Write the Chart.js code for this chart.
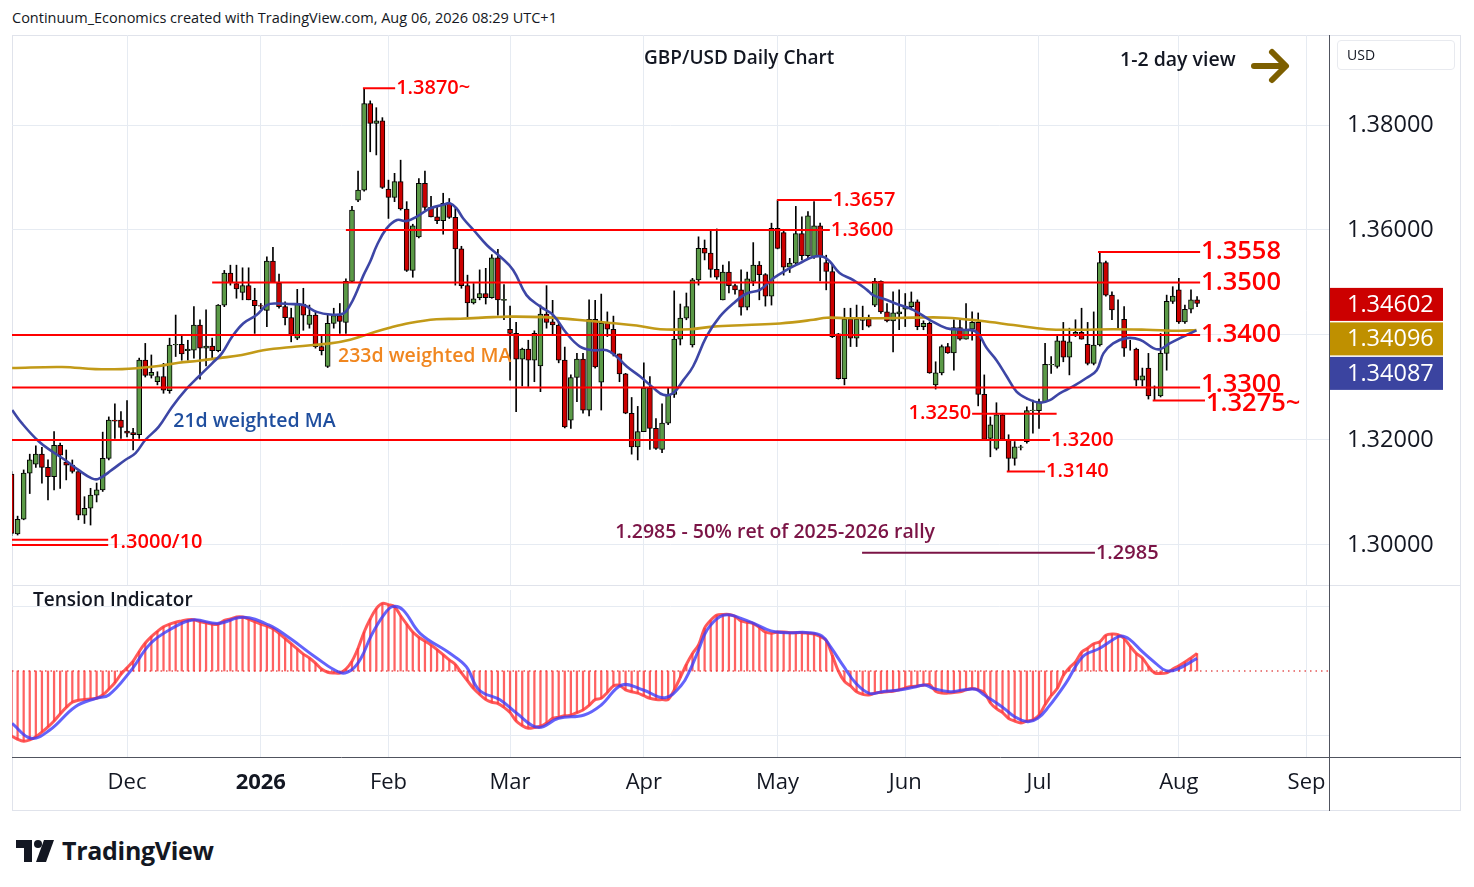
<!DOCTYPE html>
<html><head><meta charset="utf-8">
<script src="https://cdn.jsdelivr.net/npm/chart.js@4.4.1/dist/chart.umd.min.js"></script>
<style>
html,body{margin:0;padding:0;background:#fff;}
body{width:1474px;height:887px;position:relative;overflow:hidden;font-family:'Open Sans',sans-serif;color:#131722;}
.abs{position:absolute;}
</style></head>
<body>
<div class="abs" style="left:12px;top:8px;font-size:14.5px;white-space:nowrap;">Continuum_Economics created with TradingView.com, Aug 06, 2026 08:29 UTC+1</div>
<div class="abs" style="left:12px;top:35px;width:1449px;height:776px;box-sizing:border-box;border:1px solid #e0e3eb;"></div>
<div class="abs" style="left:12px;top:35px;"><canvas id="main" width="1449" height="551" style="width:1449px;height:551px;display:block"></canvas></div>
<div class="abs" style="left:12px;top:585px;width:1449px;height:1px;background:#e0e3eb;"></div>
<div class="abs" style="left:12px;top:587px;"><canvas id="ind" width="1449" height="224" style="width:1449px;height:224px;display:block"></canvas></div>
<div class="abs" style="left:1329px;top:35px;width:1px;height:776px;background:#50535e;"></div>
<div class="abs" style="left:1329px;top:757px;width:132px;height:1px;background:#50535e;"></div>
<div class="abs" style="left:644px;top:44px;font-size:19px;font-weight:600;white-space:nowrap;">GBP/USD Daily Chart</div>
<div class="abs" style="left:1120px;top:45px;font-size:19.5px;font-weight:600;white-space:nowrap;">1-2 day view</div>
<svg class="abs" style="left:1250px;top:46px" width="42" height="40" viewBox="0 0 42 40">
 <path d="M4 20 H34" stroke="#7d5f00" stroke-width="6" stroke-linecap="round" fill="none"/>
 <path d="M22 6 L36 20 L22 34" stroke="#7d5f00" stroke-width="6" stroke-linecap="round" stroke-linejoin="round" fill="none"/>
</svg>
<div class="abs" style="left:1337px;top:40px;width:118px;height:30px;box-sizing:border-box;border:1px solid #e8eaef;border-radius:4px;font-size:14px;line-height:28px;padding-left:9px;">USD</div>
<div class="abs" style="left:33px;top:586px;font-size:19px;font-weight:600;white-space:nowrap;">Tension Indicator</div>
<svg class="abs" style="left:16px;top:838px" width="44" height="26" viewBox="0 0 44 26">
 <path d="M0 2 H16 V24 H8 V10 H0 Z" fill="#131722"/>
 <circle cx="22" cy="6" r="4" fill="#131722"/>
 <path d="M28 2 H38 L30 24 H20 Z" fill="#131722"/>
</svg>
<div class="abs" style="left:62px;top:833px;font-size:25px;font-weight:700;letter-spacing:-0.3px;white-space:nowrap;">TradingView</div>
<script>
// ---------------- DATA ----------------
const FIRST_INDEX = -1; // first candle = Nov 4 2025 (trading-day index, Dec 1 = 18)
const opens = [1.3135,
1.3021,1.3049,1.3137,1.3154,1.3173,1.3148,1.3130,1.3190,1.3158,1.3152,
1.3140,1.3057,1.3070,1.3095,1.3105,1.3165,1.3238,1.3238,1.3217,1.3214,
1.3210,1.3352,1.3323,1.3311,1.3321,1.3294,1.3381,1.3382,1.3370,1.3371,
1.3419,1.3375,1.3379,1.3370,1.3457,1.3518,1.3498,1.3481,1.3494,1.3466,
1.3456,1.3447,1.3541,1.3499,1.3454,1.3433,1.3394,1.3459,1.3420,1.3438,
1.3378,1.3340,1.3422,1.3437,1.3424,1.3502,1.3657,1.3676,1.3841,1.3803,
1.3808,1.3678,1.3662,1.3692,1.3640,1.3523,1.3587,1.3689,1.3643,1.3625,
1.3618,1.3651,1.3624,1.3564,1.3494,1.3461,1.3471,1.3479,1.3471,1.3547,
1.3466,1.3411,1.3403,1.3354,1.3373,1.3352,1.3341,1.3440,1.3425,1.3419,
1.3352,1.3238,1.3319,1.3354,1.3257,1.3430,1.3310,1.3422,1.3411,1.3364,
1.3326,1.3251,1.3187,1.3216,1.3299,1.3222,1.3182,1.3232,1.3287,1.3392,
1.3432,1.3381,1.3505,1.3565,1.3556,1.3525,1.3467,1.3520,1.3494,1.3486,
1.3453,1.3502,1.3533,1.3515,1.3474,1.3603,1.3595,1.3529,1.3537,1.3593,
1.3551,1.3549,1.3608,1.3538,1.3521,1.3402,1.3317,1.3430,1.3394,1.3428,
1.3430,1.3457,1.3502,1.3444,1.3427,1.3440,1.3449,1.3454,1.3463,1.3416,
1.3422,1.3305,1.3328,1.3378,1.3366,1.3414,1.3392,1.3411,1.3424,1.3287,
1.3203,1.3184,1.3248,1.3201,1.3165,1.3186,1.3197,1.3256,1.3256,1.3273,
1.3343,1.3340,1.3389,1.3358,1.3401,1.3405,1.3382,1.3346,1.3381,1.3538,
1.3476,1.3432,1.3430,1.3375,1.3373,1.3314,1.3337,1.3284,1.3284,1.3365,
1.3464,1.3486,1.3425,1.3449,1.3467];
const highs = [1.3140,
1.3055,1.3143,1.3173,1.3189,1.3186,1.3162,1.3216,1.3194,1.3181,1.3162,
1.3142,1.3092,1.3108,1.3118,1.3215,1.3244,1.3269,1.3254,1.3275,1.3222,
1.3356,1.3384,1.3362,1.3330,1.3346,1.3394,1.3438,1.3398,1.3390,1.3454,
1.3429,1.3448,1.3394,1.3458,1.3523,1.3533,1.3533,1.3528,1.3528,1.3489,
1.3460,1.3549,1.3567,1.3516,1.3463,1.3451,1.3487,1.3489,1.3457,1.3445,
1.3400,1.3440,1.3451,1.3460,1.3507,1.3645,1.3712,1.3870,1.3846,1.3833,
1.3814,1.3695,1.3708,1.3733,1.3654,1.3611,1.3698,1.3712,1.3664,1.3645,
1.3670,1.3660,1.3641,1.3569,1.3514,1.3498,1.3524,1.3527,1.3553,1.3563,
1.3496,1.3455,1.3424,1.3375,1.3390,1.3408,1.3457,1.3494,1.3466,1.3424,
1.3377,1.3324,1.3365,1.3365,1.3467,1.3466,1.3478,1.3444,1.3436,1.3364,
1.3327,1.3281,1.3264,1.3347,1.3321,1.3241,1.3269,1.3299,1.3484,1.3459,
1.3480,1.3508,1.3587,1.3581,1.3600,1.3602,1.3533,1.3540,1.3497,1.3524,
1.3520,1.3576,1.3540,1.3517,1.3613,1.3657,1.3600,1.3546,1.3645,1.3625,
1.3635,1.3654,1.3613,1.3552,1.3533,1.3403,1.3451,1.3451,1.3457,1.3455,
1.3438,1.3508,1.3503,1.3460,1.3482,1.3486,1.3479,1.3482,1.3467,1.3427,
1.3425,1.3349,1.3381,1.3384,1.3429,1.3429,1.3460,1.3444,1.3442,1.3324,
1.3244,1.3271,1.3250,1.3210,1.3197,1.3190,1.3263,1.3276,1.3278,1.3384,
1.3359,1.3399,1.3424,1.3413,1.3429,1.3451,1.3424,1.3444,1.3558,1.3541,
1.3482,1.3467,1.3454,1.3390,1.3375,1.3337,1.3365,1.3303,1.3403,1.3476,
1.3492,1.3508,1.3457,1.3486,1.3473];
const lows = [1.3018,
1.3019,1.3048,1.3098,1.3148,1.3118,1.3086,1.3105,1.3108,1.3124,1.3137,
1.3048,1.3041,1.3038,1.3082,1.3102,1.3162,1.3203,1.3203,1.3206,1.3181,
1.3203,1.3320,1.3318,1.3305,1.3289,1.3289,1.3359,1.3352,1.3352,1.3356,
1.3316,1.3341,1.3356,1.3368,1.3454,1.3495,1.3470,1.3467,1.3467,1.3403,
1.3450,1.3416,1.3500,1.3451,1.3419,1.3387,1.3391,1.3409,1.3413,1.3375,
1.3362,1.3338,1.3413,1.3403,1.3403,1.3500,1.3654,1.3674,1.3749,1.3743,
1.3679,1.3622,1.3654,1.3638,1.3521,1.3510,1.3585,1.3638,1.3625,1.3612,
1.3592,1.3622,1.3495,1.3489,1.3435,1.3459,1.3467,1.3459,1.3470,1.3438,
1.3429,1.3314,1.3254,1.3303,1.3302,1.3311,1.3292,1.3413,1.3402,1.3347,
1.3223,1.3222,1.3273,1.3251,1.3246,1.3337,1.3257,1.3397,1.3360,1.3311,
1.3250,1.3173,1.3162,1.3216,1.3182,1.3182,1.3176,1.3229,1.3281,1.3381,
1.3429,1.3377,1.3495,1.3543,1.3510,1.3506,1.3467,1.3480,1.3478,1.3438,
1.3448,1.3494,1.3467,1.3455,1.3457,1.3564,1.3514,1.3519,1.3533,1.3543,
1.3546,1.3546,1.3503,1.3486,1.3395,1.3316,1.3305,1.3378,1.3378,1.3410,
1.3415,1.3454,1.3441,1.3425,1.3368,1.3410,1.3416,1.3448,1.3410,1.3410,
1.3327,1.3297,1.3324,1.3365,1.3333,1.3390,1.3392,1.3390,1.3265,1.3200,
1.3168,1.3181,1.3200,1.3140,1.3152,1.3181,1.3194,1.3213,1.3222,1.3271,
1.3327,1.3337,1.3349,1.3324,1.3397,1.3392,1.3343,1.3343,1.3379,1.3474,
1.3429,1.3413,1.3359,1.3371,1.3303,1.3303,1.3278,1.3275,1.3282,1.3333,
1.3460,1.3422,1.3422,1.3442,1.3454];
const closes = [1.3022,
1.3049,1.3137,1.3162,1.3173,1.3148,1.3130,1.3190,1.3171,1.3152,1.3140,
1.3057,1.3070,1.3095,1.3105,1.3165,1.3238,1.3236,1.3224,1.3213,1.3210,
1.3352,1.3323,1.3329,1.3321,1.3295,1.3381,1.3382,1.3364,1.3373,1.3419,
1.3375,1.3379,1.3370,1.3457,1.3518,1.3500,1.3488,1.3494,1.3467,1.3456,
1.3455,1.3541,1.3500,1.3454,1.3433,1.3401,1.3459,1.3438,1.3438,1.3378,
1.3370,1.3422,1.3437,1.3426,1.3502,1.3638,1.3676,1.3841,1.3803,1.3808,
1.3681,1.3662,1.3692,1.3640,1.3523,1.3608,1.3689,1.3643,1.3625,1.3618,
1.3651,1.3624,1.3564,1.3494,1.3461,1.3469,1.3479,1.3471,1.3547,1.3467,
1.3468,1.3403,1.3354,1.3373,1.3352,1.3403,1.3440,1.3424,1.3419,1.3352,
1.3225,1.3319,1.3354,1.3257,1.3430,1.3339,1.3422,1.3411,1.3364,1.3326,
1.3251,1.3187,1.3216,1.3299,1.3222,1.3184,1.3232,1.3287,1.3392,1.3432,
1.3454,1.3505,1.3565,1.3556,1.3525,1.3510,1.3520,1.3494,1.3486,1.3453,
1.3507,1.3533,1.3515,1.3474,1.3603,1.3565,1.3529,1.3537,1.3593,1.3551,
1.3627,1.3608,1.3551,1.3521,1.3397,1.3317,1.3430,1.3394,1.3430,1.3432,
1.3417,1.3502,1.3444,1.3427,1.3442,1.3444,1.3454,1.3463,1.3416,1.3422,
1.3328,1.3328,1.3378,1.3366,1.3414,1.3392,1.3411,1.3424,1.3287,1.3201,
1.3229,1.3248,1.3201,1.3165,1.3187,1.3187,1.3256,1.3257,1.3273,1.3344,
1.3344,1.3389,1.3358,1.3387,1.3405,1.3392,1.3346,1.3381,1.3538,1.3476,
1.3448,1.3432,1.3375,1.3375,1.3314,1.3322,1.3284,1.3284,1.3365,1.3464,
1.3474,1.3425,1.3449,1.3467,1.3460];

// 21-day weighted MA, read at points [trading-day index, value]
const ma21Idx = [-0.9,0.7,3.5,5.7,7.8,10,12.2,13.3,15.5,17.7,19.4,21,23.2,25.4,27.6,29.8,32,33.6,35.3,37.1,39.3,41,42.6,44.8,47,49.2,51.4,53.6,54.7,55.8,56.9,58,59.1,60.7,62.4,64,65.6,67.8,70,71.1,72.2,73.3,75,77.2,79.4,81.5,83.7,86,88.1,90.3,92.5,94.7,96.9,98.5,100.2,102.4,104.6,106.2,107.8,109.5,111.1,113.3,115.5,117.7,119.9,122.1,124.3,126.5,128.7,130.9,132.5,133.6,135.2,137.4,139.7,140.7,142.9,145.1,147.3,150,152.8,155.5,157.7,159.4,161,162.7,164.3,166,168.2,169.8,171.4,173.6,175.8,177.5,178.6,180.2,182.4,184.6,186.8,187.9,189.5,191.2,193.9];
const ma21Val = [1.3257,1.3232,1.3197,1.3178,1.3162,1.3143,1.3127,1.3126,1.3143,1.3162,1.3175,1.3200,1.3225,1.3263,1.3295,1.3321,1.3346,1.3365,1.3397,1.3422,1.3438,1.3457,1.3460,1.3459,1.3457,1.3444,1.3439,1.3441,1.3457,1.3483,1.3514,1.3540,1.3571,1.3603,1.3619,1.3617,1.3625,1.3641,1.3648,1.3651,1.3641,1.3622,1.3600,1.3571,1.3549,1.3524,1.3476,1.3454,1.3438,1.3403,1.3378,1.3371,1.3371,1.3359,1.3340,1.3321,1.3299,1.3286,1.3289,1.3314,1.3340,1.3397,1.3435,1.3460,1.3479,1.3486,1.3508,1.3524,1.3537,1.3549,1.3549,1.3540,1.3518,1.3505,1.3486,1.3476,1.3467,1.3457,1.3448,1.3429,1.3413,1.3410,1.3406,1.3375,1.3352,1.3321,1.3292,1.3279,1.3271,1.3276,1.3289,1.3302,1.3318,1.3333,1.3365,1.3384,1.3394,1.3391,1.3375,1.3373,1.3384,1.3394,1.34087];
// 233-day weighted MA
const ma233Idx = [-0.9,7.3,12.8,17.2,19.9,23.2,26.5,29.8,33.1,36.9,40.4,45.9,51.4,54.7,58,61.2,64.5,68.9,72.8,78.2,80.9,86.5,92,97.5,101.8,105.7,110.6,114.4,119.9,125.4,130.9,133.1,136.4,141.8,147.3,152.8,158.3,163.8,169.3,174.7,180.2,185.7,191.2,193.9];
const ma233Val = [1.3337,1.3339,1.3335,1.3335,1.3337,1.3341,1.3347,1.3351,1.3356,1.3362,1.3371,1.3378,1.3384,1.3391,1.3403,1.3414,1.3423,1.3430,1.3431,1.3434,1.3435,1.3434,1.3429,1.3423,1.3418,1.3411,1.3411,1.3416,1.3419,1.3422,1.3429,1.3433,1.3432,1.3432,1.3433,1.3433,1.3427,1.3419,1.3411,1.3410,1.3411,1.3410,1.3408,1.34096];

// Tension indicator (per candle) and its signal line (read at points)
const tension = [-1.00,
-1.05,-1.08,-1.06,-1.01,-0.94,-0.86,-0.77,-0.66,-0.56,-0.48,
-0.45,-0.44,-0.43,-0.42,-0.37,-0.28,-0.18,-0.05,0.05,0.15,
0.30,0.43,0.53,0.61,0.68,0.72,0.75,0.77,0.79,0.79,
0.76,0.74,0.72,0.72,0.78,0.80,0.83,0.83,0.80,0.76,
0.72,0.69,0.65,0.58,0.50,0.42,0.34,0.26,0.20,0.12,
0.03,-0.02,-0.03,-0.03,0.03,0.15,0.35,0.60,0.80,0.96,
1.04,1.02,0.99,0.85,0.72,0.60,0.52,0.46,0.40,0.33,
0.25,0.17,0.10,-0.03,-0.15,-0.27,-0.36,-0.44,-0.48,-0.50,
-0.56,-0.64,-0.77,-0.84,-0.88,-0.87,-0.85,-0.80,-0.73,-0.71,
-0.69,-0.68,-0.64,-0.60,-0.53,-0.44,-0.42,-0.33,-0.23,-0.22,
-0.29,-0.32,-0.34,-0.38,-0.42,-0.44,-0.44,-0.44,-0.29,-0.10,
0.10,0.27,0.40,0.66,0.78,0.86,0.87,0.87,0.84,0.77,
0.75,0.73,0.67,0.60,0.58,0.60,0.60,0.59,0.59,0.59,
0.58,0.57,0.53,0.47,0.24,0.00,-0.16,-0.23,-0.32,-0.36,
-0.37,-0.34,-0.33,-0.32,-0.31,-0.29,-0.26,-0.24,-0.23,-0.22,
-0.21,-0.31,-0.34,-0.34,-0.33,-0.32,-0.29,-0.27,-0.29,-0.33,
-0.49,-0.58,-0.64,-0.73,-0.77,-0.80,-0.77,-0.75,-0.68,-0.52,
-0.38,-0.27,-0.07,0.05,0.14,0.29,0.35,0.42,0.45,0.55,
0.57,0.56,0.50,0.38,0.27,0.20,0.07,-0.03,-0.04,-0.03,
0.03,0.08,0.14,0.20,0.27];
const signalIdx = [-0.9,2.2,5.3,9.5,12.9,15,18.5,21.9,25.4,28.8,33,37.1,41.3,44.8,48.9,53.1,54.9,56.5,58.2,60.3,61.7,63.4,66.2,71.1,73.8,75.9,79.4,82.1,85.6,89,93.2,96,99.4,102.9,106.5,109.2,110.6,112,113.4,115.5,117.2,119,121.1,123.2,124.6,126.7,130.2,132.3,133.7,135.9,137.9,140.1,142.2,145,147.8,149.2,150.6,153.4,155.5,157.6,159,161.9,164,166.1,167.8,169.6,172.4,175.2,178,180.1,181.5,182.9,185,187.2,188.9,190.7,194];
const signalVal = [-0.805,-1.036,-0.908,-0.549,-0.42,-0.369,-0.01,0.426,0.656,0.785,0.733,0.826,0.708,0.503,0.22,-0.026,0.015,0.2,0.55,0.87,0.99,0.938,0.58,0.272,0.067,-0.292,-0.446,-0.651,-0.867,-0.728,-0.677,-0.523,-0.215,-0.292,-0.41,-0.215,0.015,0.323,0.631,0.836,0.862,0.81,0.733,0.641,0.605,0.59,0.59,0.538,0.374,0.067,-0.19,-0.344,-0.318,-0.292,-0.241,-0.215,-0.267,-0.318,-0.292,-0.282,-0.369,-0.549,-0.703,-0.779,-0.728,-0.549,-0.19,0.22,0.349,0.477,0.538,0.487,0.297,0.118,0.005,0.026,0.195];

// Key levels: value, from/to trading-day index, label
const levelValues = [1.3870, 1.3657, 1.3600, 1.3558, 1.3500, 1.3400, 1.3300, 1.3275, 1.3250, 1.3200, 1.3140, 1.3010, 1.3000, 1.2985];
const levelFrom   = [56.8, 124.9, 54, 177.7, 32, -1.5, -1.5, 186.7, 157, -1.5, 162.7, -1.5, -1.5, 138.9];
const levelTo     = [62.1, 133.9, 133.6, 194.5, 194.5, 194.5, 194.5, 195.3, 170.9, 169.8, 169, 14.9, 14.9, 177.2];
const levelText   = ['1.3870~','1.3657','1.3600','1.3558','1.3500','1.3400','1.3300','1.3275~','1.3250','1.3200','1.3140','','1.3000/10','1.2985'];

// Month ticks (trading-day index of first session) and labels
const monthIdx = [18, 40, 61, 81, 103, 125, 146, 168, 191, 212];
const monthLabels = ['Dec','2026','Feb','Mar','Apr','May','Jun','Jul','Aug','Sep'];
const priceTicks = [1.30, 1.32, 1.34, 1.36, 1.38];
const lastClose = 1.34602, lastMa233 = 1.34096, lastMa21 = 1.34087;

// ---------------- STYLE ----------------
const FONT = "'Open Sans', sans-serif";
Chart.defaults.font.family = FONT;
Chart.defaults.color = '#131722';
const GREEN = '#5b9a47', RED = '#cc0000', LINE_RED = '#ff0000', MAROON = '#7b1446';
const GRID = '#e6ebf2';
const X_MIN = -0.92, X_MAX = 215.7;
const labelStyle = {
  '1.3558': {size:25.5}, '1.3500': {size:25.5}, '1.3400': {size:25.5},
  '1.3300': {size:25.5, dy:-3}, '1.3275~': {size:25.5, dy:3},
  '1.3250': {left:true}, '1.3000/10': {dy:-3}, '1.2985': {color:MAROON}
};
const notes = [
  {text:'233d weighted MA', x:52.7, y:1.3360, color:'#f0861f', size:19.5, align:'left'},
  {text:'21d weighted MA',  x:25.6, y:1.32362, color:'#1f4e9e', size:19.5, align:'left'},
  {text:'1.2985 - 50% ret of 2025-2026 rally', x:124.6, y:1.30248, color:MAROON, size:19.5, align:'center'}
];

const idx = opens.map((_, k) => k + FIRST_INDEX);
const monthTickFn = a => { a.ticks = monthIdx.map(v => ({value: v})); };
const noPad = a => { a.paddingTop = 0; a.paddingBottom = 0; a.paddingLeft = 0; a.paddingRight = 0; };

// ---------------- MAIN PANE ----------------
const levelSets = levelValues.map((v, k) => ({
  type: 'line',
  data: [{x: levelFrom[k], y: v}, {x: levelTo[k], y: v}],
  borderColor: levelText[k] === '1.2985' ? MAROON : LINE_RED,
  borderWidth: 2, pointRadius: 0, order: 1, clip: false
}));

const annotPlugin = {
  id: 'annot',
  afterDatasetsDraw(chart) {
    const {ctx, scales: {x, y}} = chart;
    ctx.save();
    ctx.textBaseline = 'middle';
    levelValues.forEach((v, k) => {
      const t = levelText[k]; if (!t) return;
      const st = labelStyle[t] || {};
      ctx.font = `600 ${st.size || 20}px ${FONT}`;
      ctx.fillStyle = st.color || LINE_RED;
      const py = y.getPixelForValue(v) + (st.dy || 0);
      if (st.left) { ctx.textAlign = 'right'; ctx.fillText(t, x.getPixelForValue(levelFrom[k]) - 1, py); }
      else { ctx.textAlign = 'left'; ctx.fillText(t, x.getPixelForValue(levelTo[k]) + 1, py); }
    });
    notes.forEach(n => {
      ctx.font = `600 ${n.size}px ${FONT}`;
      ctx.fillStyle = n.color; ctx.textAlign = n.align;
      ctx.fillText(n.text, x.getPixelForValue(n.x), y.getPixelForValue(n.y));
    });
    ctx.restore();
  },
  afterDraw(chart) {
    const {ctx, scales: {y}} = chart;
    const vals = [lastClose, lastMa233, lastMa21];
    const cols = [RED, '#bf9000', '#3b44a0'];
    let top = y.getPixelForValue(lastClose) - 15.5;
    ctx.save();
    vals.forEach((v, k) => {
      ctx.fillStyle = cols[k];
      ctx.fillRect(y.left + 1, top, 113, 33);
      ctx.fillStyle = '#fff';
      ctx.font = `23.5px ${FONT}`;
      ctx.textBaseline = 'middle'; ctx.textAlign = 'left';
      ctx.fillText(v.toFixed(5), y.left + 18, top + 17);
      top += 34.5;
    });
    ctx.restore();
  }
};

new Chart(document.getElementById('main'), {
  type: 'line',
  data: {
    datasets: [
      { type:'bar', data: idx.map((i,k)=>({x:i, y:[lows[k], highs[k]]})), backgroundColor:'#000',
        barThickness:1, grouped:false, order:5 },
      { type:'bar', data: idx.map((i,k)=>({x:i, y:[opens[k], closes[k]]})),
        backgroundColor: opens.map((o,k)=> closes[k] >= o ? GREEN : RED),
        borderColor:'#000', borderWidth:1, borderSkipped:false, barThickness:5, grouped:false, order:4 },
      { type:'line', data: ma233Idx.map((i,k)=>({x:i, y:ma233Val[k]})), borderColor:'#c29a18',
        borderWidth:2.6, pointRadius:0, tension:0.4, order:3 },
      { type:'line', data: ma21Idx.map((i,k)=>({x:i, y:ma21Val[k]})), borderColor:'#3d46a6',
        borderWidth:2.6, pointRadius:0, tension:0.4, order:2 },
      ...levelSets
    ]
  },
  options: {
    responsive:false, animation:false, events:[],
    layout:{padding:0, autoPadding:false},
    plugins:{legend:{display:false}, tooltip:{enabled:false}},
    scales:{
      x:{ type:'linear', min:X_MIN, max:X_MAX, offset:false,
          afterBuildTicks: monthTickFn,
          ticks:{display:false}, grid:{color:GRID, drawTicks:false, offset:false}, border:{display:false},
          afterFit: a => { a.height = 0; noPad(a); } },
      y:{ type:'linear', position:'right', min:1.29219, max:1.397143,
          afterBuildTicks: a => { a.ticks = priceTicks.map(v => ({value:v})); },
          ticks:{ callback: v => Number(v).toFixed(5), font:{size:23.5}, color:'#131722', padding:18 },
          grid:{color:GRID, drawTicks:false}, border:{display:false},
          afterFit: a => { a.width = 132; noPad(a); } }
    }
  },
  plugins:[annotPlugin]
});

// ---------------- TENSION PANE ----------------
new Chart(document.getElementById('ind'), {
  type: 'line',
  data: {
    datasets: [
      { type:'line', data:[{x:X_MIN, y:0},{x:X_MAX, y:0}], borderColor:'#d60000', borderWidth:1.2,
        borderDash:[1.5,4], pointRadius:0, order:4 },
      { type:'bar', data: idx.map((i,k)=>({x:i, y:[0, tension[k]]})), backgroundColor:'rgba(255,45,45,0.75)',
        barThickness:1.6, grouped:false, order:3 },
      { type:'line', data: idx.map((i,k)=>({x:i, y:tension[k]})), borderColor:'rgba(255,60,60,0.85)',
        borderWidth:3, pointRadius:0, tension:0.3, order:2 },
      { type:'line', data: signalIdx.map((i,k)=>({x:i, y:signalVal[k]})), borderColor:'rgba(60,60,250,0.8)',
        borderWidth:3, pointRadius:0, tension:0.4, order:1 }
    ]
  },
  options: {
    responsive:false, animation:false, events:[],
    layout:{padding:{top:3}, autoPadding:false},
    plugins:{legend:{display:false}, tooltip:{enabled:false}},
    scales:{
      x:{ type:'linear', min:X_MIN, max:X_MAX, offset:false,
          afterBuildTicks: monthTickFn,
          ticks:{ autoSkip:false, maxRotation:0, padding:13, color:'#131722',
                  callback: v => { const j = monthIdx.indexOf(v); return j >= 0 ? monthLabels[j] : ''; },
                  font: c => ({size:22, weight: (c.tick && c.tick.value === 40) ? '700' : '400'}) },
          grid:{color:GRID, drawTicks:false, offset:false},
          border:{display:true, color:'#50535e'},
          afterFit: a => { a.height = 54; noPad(a); } },
      y:{ type:'linear', position:'right', min:-1.3231, max:1.2462,
          afterBuildTicks: a => { a.ticks = [-1, 1].map(v => ({value:v})); },
          ticks:{display:false}, grid:{color:GRID, drawTicks:false}, border:{display:false},
          afterFit: a => { a.width = 132; noPad(a); } }
    }
  }
});
</script>
</body></html>
